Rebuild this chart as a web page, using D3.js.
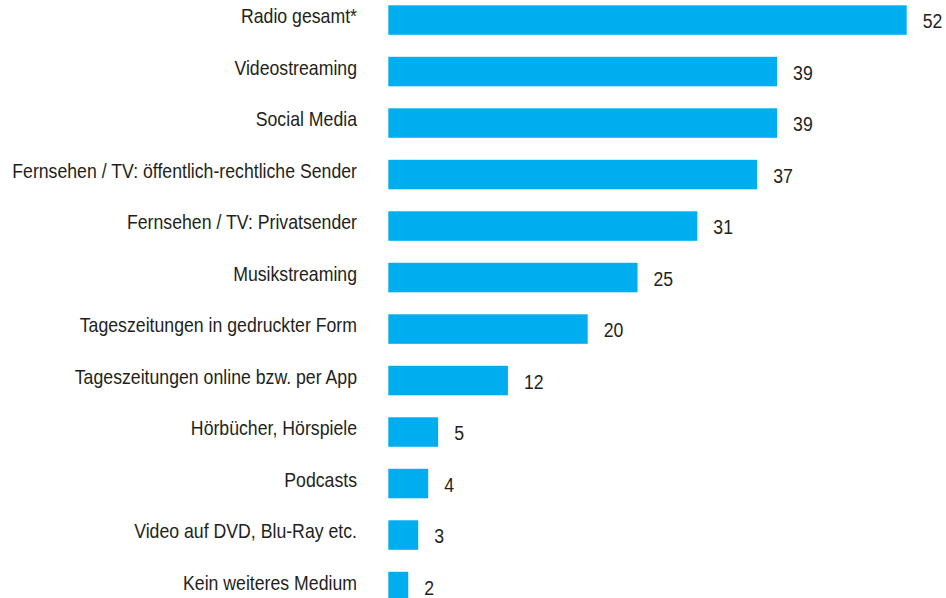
<!DOCTYPE html>
<html lang="de">
<head>
<meta charset="utf-8">
<script src="https://cdn.jsdelivr.net/npm/d3@7"></script>
<style>
  html, body { margin: 0; padding: 0; background: #fff; }
  svg { display: block; }
  text { font-family: "Liberation Sans", Arial, sans-serif; fill: #231f20; }
</style>
</head>
<body>
<svg id="chart" width="946" height="598"></svg>
<script>
// Mediennutzung: Anteil in Prozent
const categories = [
  "Radio gesamt*",
  "Videostreaming",
  "Social Media",
  "Fernsehen / TV: öffentlich-rechtliche Sender",
  "Fernsehen / TV: Privatsender",
  "Musikstreaming",
  "Tageszeitungen in gedruckter Form",
  "Tageszeitungen online bzw. per App",
  "Hörbücher, Hörspiele",
  "Podcasts",
  "Video auf DVD, Blu-Ray etc.",
  "Kein weiteres Medium"
];
const values = [52, 39, 39, 37, 31, 25, 20, 12, 5, 4, 3, 2];

const svg = d3.select("#chart");
const fontSize = 21;

const x = d3.scaleLinear()
  .domain([0, 52])
  .range([388.3, 906.7]);

// bars ~29.5px tall on a 51.5px pitch
const y = d3.scaleBand()
  .domain(categories)
  .range([5.3, 5.3 + 51.5 * 11 + 29.5])
  .paddingInner(0.427)
  .paddingOuter(0);

// condensed look: squeeze the sans face horizontally
const probe = svg.append("text")
  .attr("font-size", fontSize)
  .text(categories[3]);
const squeeze = 345 / probe.node().getComputedTextLength();
probe.remove();

const rows = svg.selectAll("g.row")
  .data(categories.map((c, i) => ({ c, v: values[i] })))
  .join("g")
  .attr("class", "row");

rows.append("rect")
  .attr("x", x(0))
  .attr("y", d => y(d.c))
  .attr("width", d => x(d.v) - x(0))
  .attr("height", y.bandwidth())
  .attr("fill", "#00aeef");

rows.append("text")
  .attr("transform", d =>
    `translate(357,${y(d.c) + y.bandwidth() / 2 + 3}) scale(${squeeze},1)`)
  .attr("text-anchor", "end")
  .attr("font-size", fontSize)
  .text(d => d.c);

rows.append("text")
  .attr("transform", d =>
    `translate(${x(d.v) + 16},${y(d.c) + y.bandwidth() / 2 + 8}) scale(${squeeze},1)`)
  .attr("text-anchor", "start")
  .attr("font-size", fontSize)
  .text(d => d.v);
</script>
</body>
</html>
